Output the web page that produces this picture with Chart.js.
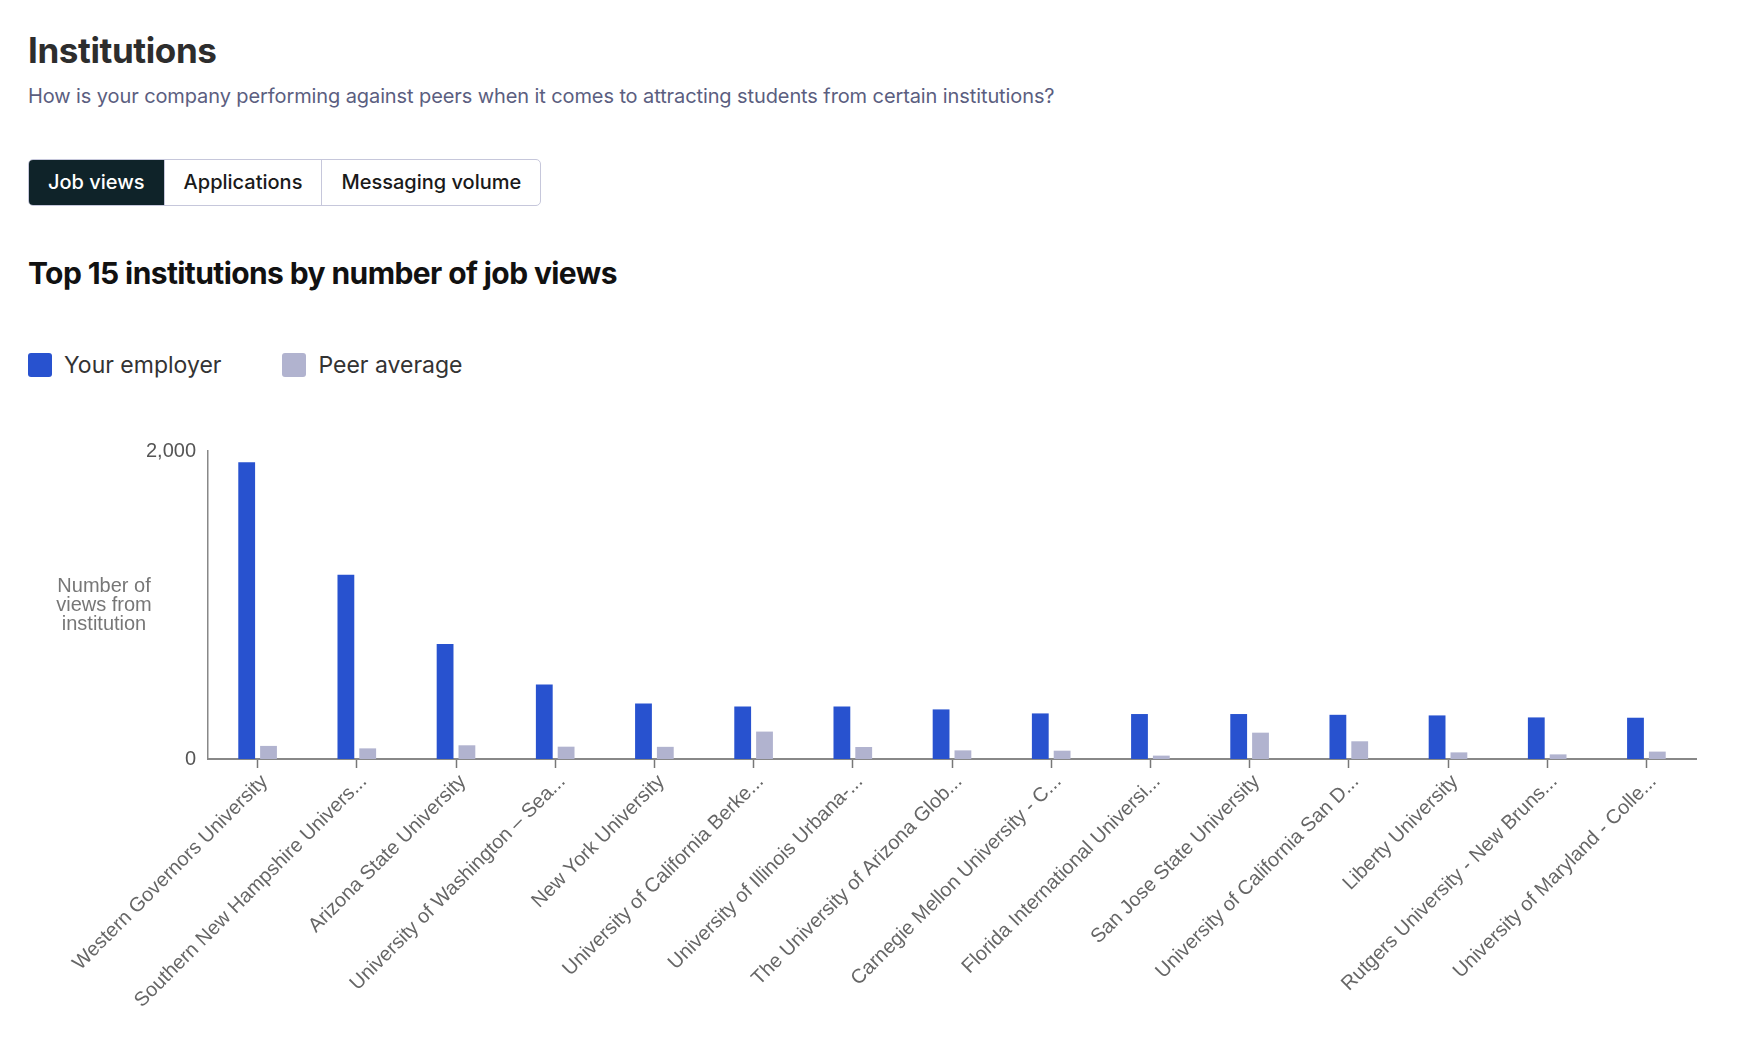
<!DOCTYPE html>
<html>
<head>
<meta charset="utf-8">
<title>Institutions</title>
<script src="https://cdn.jsdelivr.net/npm/chart.js@4"></script>
<style>
  body { margin: 0; background: #fff; font-family: Inter, "Noto Sans", sans-serif; }
  .page { position: relative; width: 1764px; height: 1042px; overflow: hidden; }
  h1 { position: absolute; left: 28px; top: 33px; margin: 0; font-size: 35px; line-height: 1; font-weight: 700; color: #2d2d2d; letter-spacing: -0.4px; }
  .sub { position: absolute; left: 28px; top: 86px; margin: 0; font-size: 20px; line-height: 1; color: #5b5e80; letter-spacing: -0.1px; }
  .tabs { position: absolute; left: 28px; top: 159px; display: flex; height: 47px; border: 1px solid #c6c7db; border-radius: 5px; box-sizing: border-box; overflow: hidden; }
  .tabs div { padding: 0 19px; font-size: 20px; font-weight: 500; line-height: 45px; color: #1a1a1a; border-left: 1px solid #c6c7db; }
  .tabs div:first-child { border-left: none; background: #0f2329; color: #fff; }
  h2 { position: absolute; left: 28px; top: 258px; margin: 0; font-size: 30px; line-height: 1; font-weight: 700; color: #111; letter-spacing: -0.6px; }
  .legend { position: absolute; left: 28px; top: 353px; display: flex; font-size: 23px; color: #333; line-height: 24px; }
  .legend span { display: flex; align-items: center; margin-right: 61px; }
  .legend i { display: inline-block; width: 24px; height: 24px; border-radius: 3px; margin-right: 12px; }
  .chart-box { position: absolute; left: 0; top: 401px; width: 1764px; height: 641px; }
</style>
</head>
<body>
<div class="page">
  <h1>Institutions</h1>
  <p class="sub">How is your company performing against peers when it comes to attracting students from certain institutions?</p>
  <div class="tabs"><div>Job views</div><div>Applications</div><div>Messaging volume</div></div>
  <h2>Top 15 institutions by number of job views</h2>
  <div class="legend" id="legend"></div>
  <div class="chart-box"><canvas id="myChart"></canvas></div>
</div>
<script>
const institutions = [
  'Western Governors University',
  'Southern New Hampshire Univers...',
  'Arizona State University',
  'University of Washington – Sea...',
  'New York University',
  'University of California Berke...',
  'University of Illinois Urbana-...',
  'The University of Arizona Glob...',
  'Carnegie Mellon University - C...',
  'Florida International Universi...',
  'San Jose State University',
  'University of California San D...',
  'Liberty University',
  'Rutgers University - New Bruns...',
  'University of Maryland - Colle...'
];
const yourEmployer = [1927, 1196, 746, 484, 361, 341, 341, 322, 296, 292, 292, 287, 283, 270, 268];
const peerAverage = [85, 69, 89, 80, 79, 178, 78, 56, 54, 22, 171, 115, 43, 30, 48];
const seriesNames = ['Your employer', 'Peer average'];
const seriesColors = ['#2852cf', '#b1b3cf'];
const yTicks = [0, 2000];
const yTitleLines = ['Number of', 'views from', 'institution'];

(() => {
    const legend = document.getElementById('legend');
    seriesNames.forEach((name, i) => {
        const item = document.createElement('span');
        item.innerHTML = '<i style="background:' + seriesColors[i] + '"></i>' + name;
        legend.appendChild(item);
    });

    const ctx = document.getElementById('myChart');
    if(ctx) {
        // horizontal y axis title, left of the axis
        const yTitle = {
            id: 'yTitle',
            afterDraw(chart) {
                const c = chart.ctx;
                const area = chart.chartArea;
                const mid = (area.top + area.bottom) / 2;
                c.save();
                c.font = '20px "Liberation Sans", Arial, sans-serif';
                c.fillStyle = '#777';
                c.textAlign = 'center';
                c.textBaseline = 'middle';
                yTitleLines.forEach((line, i) => c.fillText(line, area.left - 104, mid + (i - 1) * 19));
                c.restore();
            }
        };

        const data = {
            labels: institutions,
            datasets: [{
                label: seriesNames[0],
                data: yourEmployer,
                backgroundColor: seriesColors[0]
            }, {
                label: seriesNames[1],
                data: peerAverage,
                backgroundColor: seriesColors[1]
            }]
        };
        const config = {
            type: 'bar',
            data: data,
            options: {
                responsive: true,
                maintainAspectRatio: false,
                animation: false,
                layout: { padding: { top: 50, right: 68, left: 0, bottom: 0 } },
                datasets: { bar: { categoryPercentage: 0.44, barPercentage: 0.77 } },
                plugins: {
                    legend: { display: false },
                    tooltip: { enabled: false }
                },
                scales: {
                    x: {
                        afterFit: (scale) => { scale.height = 283; },
                        grid: { display: true, offset: false, drawOnChartArea: false, drawTicks: true, tickLength: 9, tickColor: '#777', tickWidth: 1.5 },
                        border: { display: true, color: '#888', width: 2 },
                        ticks: {
                            autoSkip: false, minRotation: 45, maxRotation: 45, padding: 2, labelOffset: 7,
                            color: '#666', font: { family: '"Liberation Sans", Arial, sans-serif', size: 20 }
                        }
                    },
                    y: {
                        min: 0,
                        max: 2000,
                        afterFit: (scale) => { scale.width = 208; },
                        afterBuildTicks: (scale) => { scale.ticks = yTicks.map(v => ({ value: v })); },
                        grid: { display: false, drawTicks: false },
                        border: { display: true, color: '#888', width: 1.5 },
                        ticks: {
                            padding: 12, color: '#555',
                            font: { family: '"Liberation Sans", Arial, sans-serif', size: 20 }
                        }
                    }
                }
            },
            plugins: [yTitle]
        };
        new Chart(ctx, config);
    }
})();
</script>
</body>
</html>
